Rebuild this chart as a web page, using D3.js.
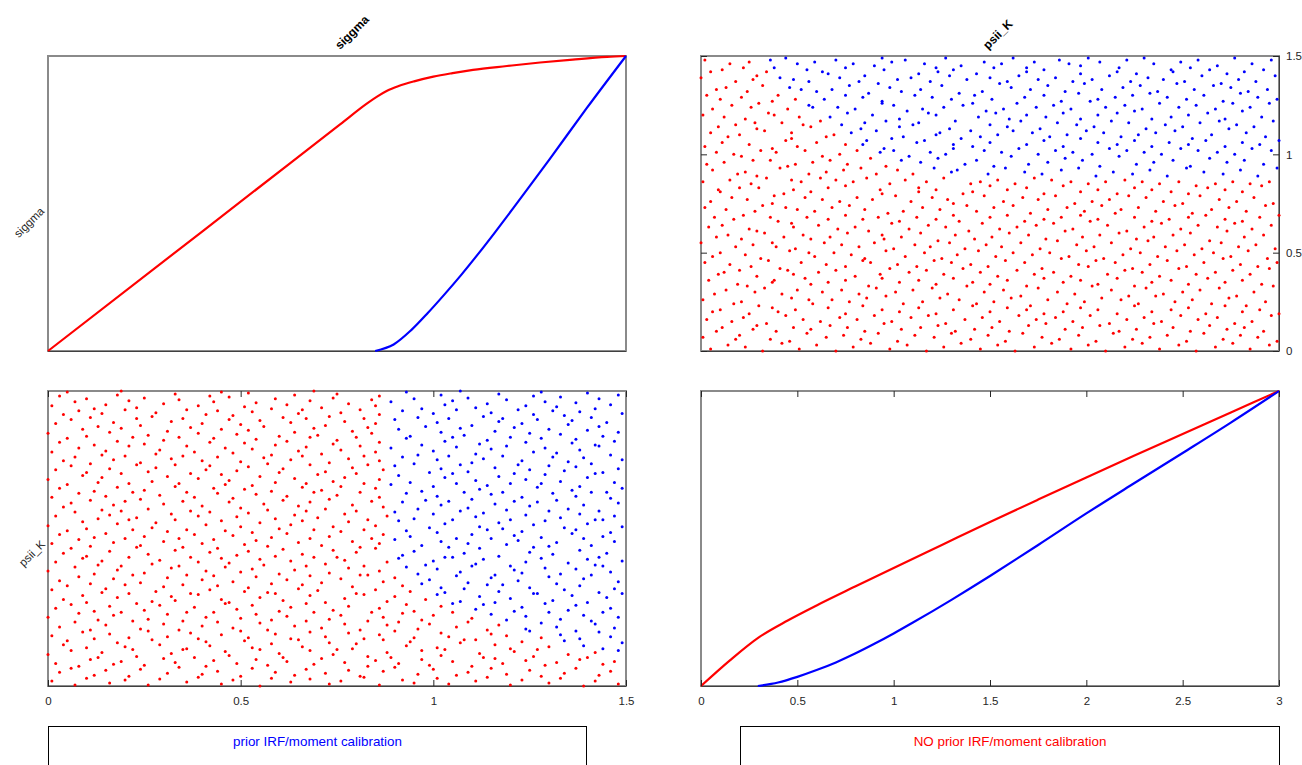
<!DOCTYPE html>
<html>
<head>
<meta charset="utf-8">
<script src="https://cdn.jsdelivr.net/npm/d3@7"></script>
<style>
  body { margin: 0; background: #fff; }
  svg { display: block; }
  text { font-family: "Liberation Sans", Arial, Helvetica, sans-serif; }
</style>
</head>
<body>
<svg id="chart" width="1302" height="765"></svg>
<script>
var paramNames = ["siggma", "psii_K"];
var siggmaRange = [0, 1.5];
var psiiRange = [0, 3];
var siggmaTicks = [0, 0.5, 1, 1.5];
var psiiTicks = [0, 0.5, 1, 1.5, 2, 2.5, 3];
var legendLabels = ["prior IRF/moment calibration", "NO prior IRF/moment calibration"];

// sample points [siggma, psii_K]
var redPoints = [
  [0.01,0.05],[0.07,0.01],[0.10,0.08],[0.16,0.03],[0.20,0.06],[0.26,0.01],[0.29,0.07],[0.36,0.04],[0.39,0.09],[0.45,0.02],[0.48,0.06],[0.55,0.00],[0.58,0.08],[0.63,0.04],[0.68,0.07],[0.73,0.02],[0.76,0.05],[0.82,0.09],[0.86,0.01],[0.92,0.06],[0.95,0.03],[1.01,0.08],[1.04,0.02],[1.11,0.05],[1.14,0.09],[1.20,0.01],[1.23,0.06],[1.30,0.03],[1.33,0.08],[1.39,0.00],[1.42,0.05],[1.48,0.02],
  [0.03,0.14],[0.06,0.18],[0.12,0.11],[0.15,0.16],[0.21,0.10],[0.24,0.17],[0.31,0.13],[0.34,0.19],[0.40,0.12],[0.44,0.15],[0.50,0.10],[0.53,0.18],[0.59,0.14],[0.64,0.11],[0.67,0.17],[0.72,0.13],[0.78,0.16],[0.81,0.10],[0.87,0.15],[0.90,0.19],[0.96,0.12],[1.00,0.17],[1.06,0.11],[1.09,0.14],[1.15,0.18],[1.19,0.12],[1.25,0.16],[1.28,0.10],[1.34,0.13],[1.37,0.18],[1.43,0.11],[1.46,0.15],
  [0.02,0.23],[0.08,0.20],[0.11,0.27],[0.17,0.22],[0.19,0.25],[0.25,0.21],[0.30,0.28],[0.33,0.24],[0.41,0.20],[0.43,0.26],[0.49,0.23],[0.54,0.27],[0.57,0.21],[0.62,0.25],[0.69,0.22],[0.71,0.28],[0.77,0.24],[0.83,0.20],[0.85,0.26],[0.91,0.23],[0.97,0.27],[0.99,0.21],[1.05,0.25],[1.10,0.20],[1.16,0.28],[1.18,0.23],[1.24,0.26],[1.29,0.21],[1.32,0.24],[1.38,0.27],[1.44,0.22],[1.47,0.25],
  [0.00,0.32],[0.06,0.36],[0.13,0.29],[0.14,0.34],[0.22,0.37],[0.23,0.30],[0.32,0.33],[0.35,0.37],[0.38,0.29],[0.46,0.35],[0.47,0.31],[0.55,0.37],[0.60,0.33],[0.61,0.29],[0.68,0.36],[0.74,0.32],[0.75,0.37],[0.83,0.30],[0.88,0.34],[0.89,0.29],[0.97,0.36],[1.02,0.31],[1.03,0.37],[1.12,0.33],[1.13,0.29],[1.21,0.35],[1.26,0.30],[1.27,0.37],[1.35,0.32],[1.40,0.29],[1.42,0.34],
  [0.04,0.42],[0.05,0.46],[0.10,0.39],[0.18,0.44],[0.20,0.40],[0.27,0.47],[0.29,0.42],[0.36,0.38],[0.41,0.45],[0.42,0.41],[0.51,0.46],[0.53,0.39],[0.58,0.43],[0.65,0.47],[0.66,0.40],[0.73,0.44],[0.79,0.38],[0.80,0.43],[0.87,0.47],[0.93,0.41],[0.94,0.45],[1.01,0.39],[1.07,0.44],[1.08,0.47],[1.16,0.42],[1.20,0.38],[1.23,0.45],[1.30,0.40],
  [0.01,0.51],[0.09,0.55],[0.12,0.48],[0.16,0.53],[0.21,0.49],[0.26,0.56],[0.31,0.50],[0.37,0.54],[0.39,0.48],[0.45,0.52],[0.50,0.56],[0.52,0.49],[0.59,0.53],[0.63,0.48],[0.68,0.55],[0.72,0.50],[0.78,0.54],[0.82,0.48],[0.86,0.52],[0.90,0.56],[0.95,0.49],[1.02,0.54],[1.04,0.50],[1.11,0.47],[1.15,0.53],[1.19,0.51],[1.28,0.49],
  [0.03,0.60],[0.07,0.65],[0.11,0.57],[0.15,0.62],[0.22,0.66],[0.24,0.58],[0.30,0.63],[0.34,0.57],[0.40,0.61],[0.44,0.65],[0.48,0.59],[0.55,0.64],[0.57,0.57],[0.64,0.61],[0.67,0.66],[0.71,0.59],[0.77,0.63],[0.81,0.57],[0.88,0.62],[0.91,0.65],[0.96,0.58],[0.99,0.63],[1.06,0.60],[1.09,0.65],[1.14,0.57],[1.17,0.62],
  [0.00,0.70],[0.08,0.74],[0.13,0.67],[0.17,0.72],[0.19,0.75],[0.26,0.68],[0.31,0.73],[0.35,0.66],[0.41,0.70],[0.43,0.75],[0.50,0.69],[0.54,0.73],[0.58,0.67],[0.62,0.71],[0.69,0.75],[0.73,0.68],[0.76,0.72],[0.83,0.66],[0.87,0.70],[0.92,0.74],[0.97,0.67],[1.00,0.72],[1.05,0.75],[1.10,0.69],
  [0.02,0.79],[0.06,0.83],[0.12,0.76],[0.16,0.81],[0.23,0.84],[0.25,0.77],[0.29,0.82],[0.36,0.75],[0.38,0.80],[0.46,0.84],[0.49,0.78],[0.53,0.82],[0.60,0.76],[0.63,0.80],[0.67,0.84],[0.74,0.77],[0.78,0.81],[0.84,0.75],[0.86,0.79],[0.93,0.83],[0.95,0.76],[1.02,0.81],
  [0.04,0.88],[0.09,0.92],[0.10,0.85],[0.18,0.90],[0.21,0.94],[0.27,0.86],[0.32,0.91],[0.33,0.87],[0.39,0.93],[0.45,0.88],[0.47,0.85],[0.55,0.90],[0.59,0.94],[0.61,0.87],[0.68,0.92],[0.72,0.85],[0.77,0.89],[0.82,0.93],[0.88,0.86],[0.90,0.91],[0.98,0.88],
  [0.01,0.98],[0.05,1.02],[0.14,0.95],[0.15,0.99],[0.20,1.03],[0.28,0.96],[0.30,1.01],[0.37,0.94],[0.42,0.98],[0.44,1.02],[0.51,0.96],[0.52,1.00],[0.57,0.95],[0.65,0.99],[0.66,1.03],[0.70,0.97],[0.79,1.01],[0.80,0.94],[0.85,0.98],[0.92,1.02],[0.94,0.96],
  [0.03,1.07],[0.08,1.11],[0.11,1.04],[0.17,1.09],[0.22,1.13],[0.24,1.05],[0.31,1.10],[0.35,1.03],[0.40,1.08],[0.43,1.12],[0.48,1.06],[0.54,1.11],[0.58,1.04],[0.62,1.08],[0.68,1.12],[0.71,1.05],[0.76,1.09],[0.83,1.13],[0.87,1.06],[0.90,1.10],
  [0.00,1.17],[0.07,1.21],[0.12,1.14],[0.18,1.18],[0.19,1.22],[0.25,1.15],[0.32,1.20],[0.36,1.13],[0.41,1.17],[0.46,1.21],[0.50,1.16],[0.53,1.19],[0.60,1.14],[0.64,1.18],[0.67,1.22],[0.73,1.15],[0.78,1.20],[0.81,1.13],[0.86,1.17],
  [0.02,1.26],[0.09,1.30],[0.13,1.23],[0.14,1.27],[0.21,1.31],[0.27,1.24],[0.29,1.28],[0.34,1.22],[0.39,1.26],[0.45,1.30],[0.47,1.25],[0.55,1.29],[0.56,1.23],[0.63,1.27],[0.69,1.31],[0.72,1.24],[0.77,1.28],[0.82,1.22],[0.88,1.26],
  [0.04,1.35],[0.06,1.40],[0.10,1.32],[0.16,1.37],[0.23,1.41],[0.26,1.34],[0.33,1.38],[0.37,1.31],[0.42,1.36],[0.44,1.40],[0.49,1.33],[0.52,1.37],[0.59,1.32],[0.61,1.39],[0.66,1.34],[0.74,1.38],[0.75,1.31],[0.80,1.36],[0.85,1.40],
  [0.01,1.45],[0.08,1.49],[0.11,1.42],[0.17,1.46],[0.20,1.50],[0.24,1.43],[0.30,1.47],[0.35,1.41],[0.40,1.45],[0.43,1.49],[0.51,1.44],[0.54,1.48],[0.57,1.42],[0.65,1.46],[0.68,1.50],[0.71,1.43],[0.79,1.47],[0.81,1.41],[0.86,1.45],
  [0.03,1.54],[0.05,1.58],[0.12,1.51],[0.15,1.55],[0.22,1.59],[0.25,1.52],[0.31,1.57],[0.34,1.50],[0.38,1.54],[0.46,1.58],[0.48,1.53],[0.53,1.56],[0.58,1.51],[0.62,1.55],[0.69,1.59],[0.73,1.52],[0.76,1.57],[0.84,1.50],[0.87,1.54],
  [0.00,1.63],[0.09,1.67],[0.10,1.60],[0.18,1.65],[0.21,1.69],[0.27,1.61],[0.28,1.66],[0.36,1.59],[0.41,1.64],[0.45,1.68],[0.50,1.62],[0.55,1.66],[0.60,1.60],[0.63,1.64],[0.66,1.68],[0.74,1.62],[0.78,1.67],[0.82,1.59],[0.85,1.63],
  [0.02,1.73],[0.07,1.77],[0.13,1.70],[0.16,1.74],[0.19,1.78],[0.23,1.71],[0.32,1.75],[0.33,1.69],[0.39,1.73],[0.42,1.77],[0.49,1.72],[0.52,1.76],[0.59,1.70],[0.64,1.74],[0.67,1.78],[0.70,1.71],[0.77,1.75],[0.83,1.69],[0.88,1.73],
  [0.04,1.82],[0.06,1.86],[0.14,1.79],[0.17,1.84],[0.20,1.88],[0.26,1.80],[0.30,1.85],[0.37,1.78],[0.40,1.83],[0.47,1.87],[0.50,1.81],[0.56,1.85],[0.57,1.79],[0.65,1.83],[0.68,1.87],[0.72,1.80],[0.79,1.84],[0.80,1.78],[0.87,1.82],
  [0.01,1.92],[0.08,1.96],[0.11,1.89],[0.15,1.93],[0.22,1.97],[0.24,1.90],[0.29,1.94],[0.35,1.88],[0.38,1.92],[0.44,1.96],[0.48,1.91],[0.54,1.95],[0.61,1.89],[0.62,1.93],[0.69,1.97],[0.73,1.90],[0.75,1.94],[0.84,1.88],[0.86,1.92],
  [0.03,2.01],[0.05,2.05],[0.12,1.98],[0.18,2.02],[0.21,2.06],[0.25,1.99],[0.33,2.03],[0.36,1.97],[0.43,2.01],[0.46,2.05],[0.51,2.00],[0.53,2.04],[0.58,1.98],[0.66,2.02],[0.67,2.06],[0.71,1.99],[0.76,2.03],[0.81,1.97],[0.85,2.01],
  [0.00,2.10],[0.09,2.14],[0.13,2.07],[0.14,2.12],[0.19,2.16],[0.27,2.08],[0.31,2.13],[0.34,2.06],[0.39,2.11],[0.45,2.15],[0.47,2.09],[0.55,2.13],[0.59,2.07],[0.64,2.11],[0.70,2.15],[0.74,2.08],[0.77,2.12],[0.82,2.06],[0.86,2.10],
  [0.02,2.20],[0.06,2.24],[0.10,2.17],[0.16,2.21],[0.23,2.25],[0.26,2.18],[0.28,2.22],[0.37,2.16],[0.41,2.20],[0.42,2.24],[0.49,2.19],[0.52,2.23],[0.60,2.17],[0.61,2.21],[0.68,2.25],[0.72,2.18],[0.79,2.22],[0.80,2.16],[0.87,2.20],
  [0.04,2.29],[0.07,2.33],[0.11,2.26],[0.17,2.30],[0.20,2.34],[0.24,2.27],[0.32,2.31],[0.33,2.25],[0.40,2.29],[0.44,2.33],[0.50,2.28],[0.56,2.32],[0.57,2.26],[0.63,2.30],[0.66,2.34],[0.73,2.27],[0.78,2.31],[0.83,2.25],[0.86,2.29],
  [0.01,2.38],[0.08,2.42],[0.14,2.35],[0.15,2.39],[0.21,2.44],[0.28,2.36],[0.29,2.40],[0.35,2.34],[0.38,2.38],[0.46,2.42],[0.48,2.37],[0.53,2.41],[0.58,2.35],[0.65,2.39],[0.67,2.43],[0.71,2.36],[0.76,2.40],[0.82,2.34],[0.85,2.38],
  [0.03,2.48],[0.05,2.52],[0.12,2.45],[0.18,2.49],[0.22,2.53],[0.25,2.46],[0.30,2.50],[0.36,2.44],[0.42,2.48],[0.43,2.52],[0.51,2.47],[0.54,2.51],[0.59,2.45],[0.62,2.49],[0.68,2.53],[0.74,2.46],[0.75,2.50],[0.81,2.44],[0.86,2.48],
  [0.00,2.57],[0.09,2.61],[0.10,2.54],[0.16,2.58],[0.19,2.62],[0.26,2.55],[0.31,2.59],[0.34,2.53],[0.39,2.57],[0.45,2.61],[0.49,2.56],[0.52,2.60],[0.60,2.54],[0.64,2.58],[0.69,2.62],[0.70,2.55],[0.79,2.59],[0.80,2.53],[0.84,2.57],
  [0.02,2.67],[0.06,2.71],[0.13,2.64],[0.17,2.68],[0.23,2.72],[0.24,2.65],[0.32,2.69],[0.37,2.63],[0.40,2.67],[0.47,2.71],[0.50,2.66],[0.55,2.70],[0.56,2.64],[0.63,2.68],[0.67,2.72],[0.72,2.65],[0.77,2.69],[0.83,2.63],[0.85,2.67],
  [0.04,2.76],[0.08,2.80],[0.11,2.73],[0.14,2.77],[0.20,2.81],[0.27,2.74],[0.28,2.78],[0.35,2.72],[0.41,2.76],[0.44,2.80],[0.48,2.75],[0.53,2.79],[0.61,2.73],[0.65,2.77],[0.66,2.81],[0.73,2.74],[0.76,2.78],[0.82,2.72],[0.86,2.76],
  [0.01,2.85],[0.07,2.89],[0.12,2.82],[0.15,2.86],[0.21,2.90],[0.23,2.83],[0.30,2.87],[0.36,2.81],[0.39,2.85],[0.43,2.89],[0.51,2.84],[0.54,2.88],[0.58,2.82],[0.62,2.86],[0.68,2.90],[0.71,2.83],[0.78,2.87],[0.81,2.81],[0.85,2.85],
  [0.03,2.95],[0.05,2.99],[0.10,2.92],[0.18,2.96],[0.19,3.00],[0.25,2.93],[0.33,2.97],[0.34,2.91],[0.42,2.95],[0.45,2.99],[0.47,2.94],[0.52,2.98],[0.59,2.92],[0.64,2.96],[0.69,3.00],[0.74,2.93],[0.75,2.97],[0.84,2.91],[0.86,2.95]
];

var bluePoints = [
  [1.48,0.36],
  [1.34,0.46],[1.39,0.41],[1.44,0.38],[1.49,0.44],
  [1.25,0.56],[1.33,0.52],[1.38,0.48],[1.43,0.55],[1.46,0.50],
  [1.24,0.58],[1.28,0.64],[1.32,0.60],[1.37,0.56],[1.42,0.63],[1.47,0.59],
  [1.15,0.73],[1.19,0.67],[1.24,0.71],[1.30,0.75],[1.33,0.68],[1.39,0.72],[1.41,0.66],[1.48,0.70],
  [1.05,0.84],[1.11,0.78],[1.13,0.83],[1.21,0.76],[1.23,0.80],[1.29,0.84],[1.35,0.77],[1.37,0.82],[1.44,0.75],[1.46,0.79],
  [1.01,0.93],[1.07,0.86],[1.12,0.91],[1.16,0.85],[1.20,0.89],[1.26,0.94],[1.31,0.87],[1.36,0.92],[1.40,0.85],[1.45,0.90],[1.49,0.94],
  [1.02,1.00],[1.03,0.95],[1.08,0.99],[1.14,1.03],[1.17,0.96],[1.25,1.00],[1.27,0.94],[1.34,0.98],[1.38,1.02],[1.43,0.95],[1.47,0.99],
  [0.97,1.04],[0.99,1.08],[1.06,1.12],[1.09,1.05],[1.15,1.10],[1.18,1.03],[1.22,1.07],[1.30,1.11],[1.32,1.04],[1.39,1.09],[1.41,1.13],[1.48,1.06],
  [0.93,1.21],[0.96,1.14],[1.01,1.19],[1.07,1.16],[1.10,1.22],[1.16,1.13],[1.21,1.18],[1.23,1.15],[1.29,1.20],[1.33,1.14],[1.37,1.19],[1.44,1.22],[1.46,1.16],
  [0.91,1.30],[0.98,1.23],[1.00,1.27],[1.05,1.31],[1.11,1.24],[1.13,1.29],[1.20,1.22],[1.24,1.26],[1.28,1.30],[1.35,1.25],[1.40,1.29],[1.42,1.23],[1.49,1.27],
  [0.92,1.33],[0.95,1.37],[1.03,1.31],[1.08,1.35],[1.12,1.40],[1.17,1.32],[1.25,1.36],[1.26,1.41],[1.31,1.34],[1.38,1.38],[1.43,1.31],[1.45,1.35],
  [0.90,1.49],[0.97,1.43],[1.02,1.47],[1.04,1.41],[1.09,1.45],[1.15,1.50],[1.19,1.44],[1.22,1.48],[1.30,1.42],[1.32,1.46],[1.39,1.50],[1.41,1.43],[1.47,1.47],
  [0.93,1.58],[0.94,1.52],[1.01,1.56],[1.06,1.50],[1.10,1.54],[1.14,1.59],[1.21,1.53],[1.23,1.57],[1.28,1.51],[1.36,1.55],[1.37,1.59],[1.44,1.52],[1.46,1.56],
  [0.91,1.68],[0.99,1.61],[1.03,1.65],[1.05,1.69],[1.12,1.62],[1.17,1.66],[1.18,1.60],[1.26,1.64],[1.29,1.68],[1.34,1.61],[1.40,1.65],[1.42,1.69],[1.49,1.62],
  [0.90,1.77],[0.95,1.70],[1.00,1.75],[1.07,1.78],[1.11,1.72],[1.13,1.76],[1.20,1.69],[1.24,1.74],[1.30,1.78],[1.33,1.71],[1.38,1.75],[1.44,1.69],[1.47,1.73],
  [0.92,1.87],[0.96,1.80],[1.02,1.84],[1.04,1.88],[1.09,1.81],[1.16,1.85],[1.19,1.79],[1.25,1.83],[1.27,1.87],[1.35,1.80],[1.39,1.84],[1.43,1.78],[1.48,1.86],
  [0.93,1.96],[0.98,1.89],[1.01,1.93],[1.08,1.97],[1.10,1.90],[1.15,1.95],[1.21,1.88],[1.23,1.92],[1.31,1.96],[1.32,1.89],[1.37,1.93],[1.41,1.97],[1.46,1.91],
  [0.89,2.05],[0.97,1.98],[1.00,2.03],[1.06,2.06],[1.12,2.00],[1.14,2.04],[1.18,1.97],[1.27,2.02],[1.28,2.06],[1.36,1.99],[1.38,2.03],[1.45,1.97],[1.49,2.01],
  [0.91,2.14],[0.94,2.07],[1.03,2.12],[1.05,2.16],[1.11,2.09],[1.17,2.13],[1.20,2.06],[1.24,2.10],[1.29,2.15],[1.33,2.08],[1.40,2.12],[1.42,2.16],[1.47,2.07],
  [0.90,2.24],[0.99,2.17],[1.02,2.21],[1.07,2.25],[1.09,2.18],[1.16,2.22],[1.21,2.16],[1.25,2.20],[1.30,2.24],[1.34,2.19],[1.37,2.23],[1.44,2.17],[1.48,2.21],
  [0.92,2.33],[0.95,2.26],[1.01,2.30],[1.04,2.34],[1.10,2.27],[1.13,2.31],[1.22,2.25],[1.23,2.29],[1.31,2.33],[1.35,2.28],[1.39,2.32],[1.41,2.26],[1.49,2.30],
  [0.89,2.42],[0.96,2.35],[1.00,2.39],[1.06,2.43],[1.11,2.36],[1.15,2.41],[1.18,2.34],[1.26,2.38],[1.29,2.42],[1.32,2.37],[1.38,2.40],[1.43,2.44],[1.46,2.35],
  [0.93,2.52],[0.97,2.45],[1.03,2.49],[1.05,2.53],[1.12,2.46],[1.14,2.50],[1.19,2.44],[1.24,2.48],[1.28,2.52],[1.36,2.47],[1.37,2.51],[1.42,2.45],[1.47,2.49],
  [0.91,2.61],[0.94,2.54],[1.02,2.58],[1.07,2.62],[1.08,2.55],[1.16,2.59],[1.20,2.53],[1.25,2.57],[1.30,2.61],[1.33,2.56],[1.40,2.60],[1.44,2.54],[1.48,2.58],
  [0.90,2.71],[0.98,2.64],[1.01,2.68],[1.04,2.72],[1.10,2.65],[1.17,2.69],[1.21,2.63],[1.23,2.67],[1.27,2.71],[1.35,2.66],[1.36,2.70],[1.43,2.64],[1.45,2.68],
  [0.92,2.80],[0.96,2.73],[1.00,2.77],[1.06,2.81],[1.13,2.74],[1.15,2.78],[1.18,2.72],[1.26,2.76],[1.31,2.80],[1.34,2.75],[1.38,2.79],[1.41,2.73],[1.49,2.77],
  [0.89,2.89],[0.97,2.82],[1.03,2.86],[1.05,2.90],[1.11,2.83],[1.14,2.87],[1.22,2.81],[1.24,2.85],[1.29,2.89],[1.32,2.84],[1.37,2.88],[1.42,2.82],[1.46,2.86],
  [0.93,2.99],[0.95,2.92],[1.02,2.96],[1.07,3.00],[1.09,2.93],[1.17,2.97],[1.19,2.91],[1.26,2.95],[1.28,2.99],[1.33,2.94],[1.40,2.98],[1.43,2.92],[1.48,2.96]
];

// cumulative distributions on the diagonal [value, share]
var siggmaCdfRed = [[0,0],[0.4,0.405],[0.758,0.768],[0.83,0.841],[0.855,0.863],[0.88,0.882],[0.91,0.898],[0.95,0.914],[1.0,0.930],[1.05,0.942],[1.103,0.953],[1.191,0.966],[1.277,0.978],[1.362,0.988],[1.451,0.997],[1.5,1]];
var siggmaCdfBlue = [[0.849,0],[0.897,0.022],[0.942,0.070],[0.985,0.128],[1.029,0.192],[1.073,0.259],[1.117,0.330],[1.161,0.404],[1.205,0.480],[1.249,0.557],[1.301,0.649],[1.398,0.823],[1.5,1]];
var psiiCdfRed = [[0,0],[0.15,0.087],[0.3,0.165],[0.45,0.222],[0.6,0.273],[0.8,0.337],[1.0,0.400],[1.25,0.478],[1.5,0.556],[1.75,0.632],[2.0,0.707],[2.25,0.781],[2.5,0.854],[2.75,0.927],[3,1]];
var psiiCdfBlue = [[0.295,0],[0.4,0.012],[0.5,0.031],[0.6,0.054],[0.7,0.080],[0.8,0.110],[0.9,0.143],[1.0,0.178],[1.1,0.215],[1.2,0.253],[1.3,0.292],[1.4,0.332],[1.5,0.373],[1.75,0.478],[2.0,0.585],[2.25,0.688],[2.5,0.790],[2.75,0.893],[3,1]];

var RED = "#ff0000", BLUE = "#0000ff", INK = "#262626";
var W = 578, H = 295;
var colX = [48, 701], rowY = [56, 391];

var svg = d3.select("#chart");

var sigX = d3.scaleLinear().domain(siggmaRange).range([0, W]);
var psiX = d3.scaleLinear().domain(psiiRange).range([0, W]);
var sigY = d3.scaleLinear().domain(siggmaRange).range([H, 0]);
var psiY = d3.scaleLinear().domain(psiiRange).range([H, 0]);
var cdfY = d3.scaleLinear().domain([0, 1]).range([H, 0]);

function panel(col, row) {
  return svg.append("g").attr("transform", "translate(" + colX[col] + "," + rowY[row] + ")");
}

function frame(g) {
  g.append("rect")
    .attr("width", W).attr("height", H)
    .attr("fill", "none").attr("stroke", "#8a8a8a").attr("stroke-width", 2);
  g.append("line")
    .attr("x1", 0).attr("x2", W).attr("y1", H + 0.5).attr("y2", H + 0.5)
    .attr("stroke", "#404040");
}

function tidyAxis(a) {
  a.attr("font-family", null).attr("font-size", 11.5);
  a.select(".domain").remove();
  a.selectAll(".tick line").attr("stroke", INK);
  a.selectAll(".tick text").attr("fill", INK);
}

function cdfLine(x) {
  return d3.line()
    .x(function(d) { return x(d[0]); })
    .y(function(d) { return cdfY(d[1]); })
    .curve(d3.curveMonotoneX);
}

function dots(g, pts, color, fx, fy) {
  g.append("g").selectAll("circle")
    .data(pts)
    .enter().append("circle")
    .attr("cx", function(d) { return fx(d); })
    .attr("cy", function(d) { return fy(d); })
    .attr("r", 1.5)
    .attr("fill", color);
}

// top-left: siggma distribution
var p00 = panel(0, 0);
frame(p00);
[[siggmaCdfRed, RED], [siggmaCdfBlue, BLUE]].forEach(function(s) {
  p00.append("path").datum(s[0])
    .attr("d", cdfLine(sigX))
    .attr("fill", "none").attr("stroke", s[1]).attr("stroke-width", 2.2);
});

// top-right: x = psii_K, y = siggma
var p01 = panel(1, 0);
frame(p01);
p01.append("line").attr("x1", W + 0.5).attr("x2", W + 0.5).attr("y1", 0).attr("y2", H).attr("stroke", "#404040");
dots(p01, redPoints, RED, function(d) { return psiX(d[1]); }, function(d) { return sigY(d[0]); });
dots(p01, bluePoints, BLUE, function(d) { return psiX(d[1]); }, function(d) { return sigY(d[0]); });
p01.append("g").attr("transform", "translate(" + W + ",0)")
  .call(d3.axisRight(sigY).tickValues(siggmaTicks).tickSize(-6).tickPadding(7).tickFormat(d3.format("~g")))
  .call(tidyAxis);
p01.append("g")
  .call(d3.axisLeft(sigY).tickValues(siggmaTicks).tickSize(-6).tickFormat(""))
  .call(tidyAxis);

// bottom-left: x = siggma, y = psii_K
var p10 = panel(0, 1);
frame(p10);
dots(p10, redPoints, RED, function(d) { return sigX(d[0]); }, function(d) { return psiY(d[1]); });
dots(p10, bluePoints, BLUE, function(d) { return sigX(d[0]); }, function(d) { return psiY(d[1]); });
p10.append("g").attr("transform", "translate(0," + H + ")")
  .call(d3.axisBottom(sigX).tickValues(siggmaTicks).tickSize(-6).tickPadding(11).tickFormat(d3.format("~g")))
  .call(tidyAxis);
p10.append("g")
  .call(d3.axisTop(sigX).tickValues(siggmaTicks).tickSize(-6).tickFormat(""))
  .call(tidyAxis);

// bottom-right: psii_K distribution
var p11 = panel(1, 1);
frame(p11);
[[psiiCdfRed, RED], [psiiCdfBlue, BLUE]].forEach(function(s) {
  p11.append("path").datum(s[0])
    .attr("d", cdfLine(psiX))
    .attr("fill", "none").attr("stroke", s[1]).attr("stroke-width", 2.2);
});
p11.append("g").attr("transform", "translate(0," + H + ")")
  .call(d3.axisBottom(psiX).tickValues(psiiTicks).tickSize(-6).tickPadding(11).tickFormat(d3.format("~g")))
  .call(tidyAxis);
p11.append("g")
  .call(d3.axisTop(psiX).tickValues(psiiTicks).tickSize(-6).tickFormat(""))
  .call(tidyAxis);

// column titles, rotated
svg.append("text")
  .attr("transform", "translate(340,50) rotate(-45)")
  .attr("font-size", 12).attr("font-weight", "bold").attr("fill", "#000")
  .text(paramNames[0]);
svg.append("text")
  .attr("transform", "translate(988,50) rotate(-45)")
  .attr("font-size", 12).attr("font-weight", "bold").attr("fill", "#000")
  .text(paramNames[1]);

// row labels, rotated
svg.append("text")
  .attr("transform", "translate(45,212) rotate(-45)")
  .attr("text-anchor", "end").attr("font-size", 11.5).attr("fill", INK)
  .text(paramNames[0]);
svg.append("text")
  .attr("transform", "translate(46,545) rotate(-45)")
  .attr("text-anchor", "end").attr("font-size", 11.5).attr("fill", INK)
  .text(paramNames[1]);

// legend boxes
var legendBoxes = [
  { x: 48.5, w: 538, color: BLUE, label: legendLabels[0] },
  { x: 740.5, w: 539, color: RED, label: legendLabels[1] }
];
legendBoxes.forEach(function(b) {
  svg.append("rect")
    .attr("x", b.x).attr("y", 726.5).attr("width", b.w).attr("height", 80)
    .attr("fill", "#fff").attr("stroke", "#000").attr("stroke-width", 1);
  svg.append("text")
    .attr("x", b.x + b.w / 2).attr("y", 746)
    .attr("text-anchor", "middle").attr("font-size", 13.4).attr("fill", b.color)
    .text(b.label);
});
</script>
</body>
</html>
